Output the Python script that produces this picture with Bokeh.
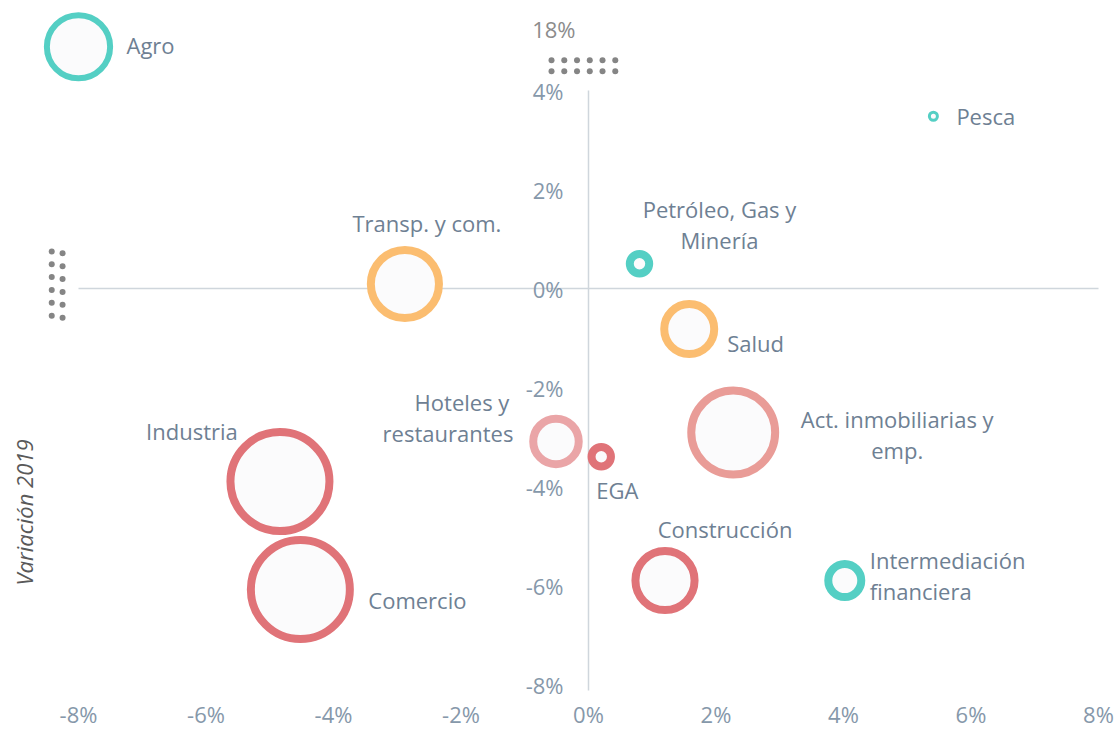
from bokeh.plotting import figure
from bokeh.models import ColumnDataSource, Range1d, FixedTicker, CustomJSTickFormatter
from bokeh.core.properties import value
from bokeh.embed import file_html
from bokeh.resources import INLINE
import math

# ---------------- data ----------------
sectores = ["Agro", "Pesca", "Petróleo, Gas y Minería", "Transp. y com.", "Salud",
            "Hoteles y restaurantes", "EGA", "Act. inmobiliarias y emp.", "Industria",
            "Comercio", "Construcción", "Intermediación financiera"]
var_x = [-8.0, 5.41, 0.80, -2.88, 1.58, -0.51, 0.20, 2.27, -4.84, -4.52, 1.20, 4.02]
var_2019 = [13.9, 3.48, 0.50, 0.09, -0.82, -3.09, -3.40, -2.91, -3.90, -6.08, -5.90, -5.90]
peso = [6.7, 0.17, 1.05, 8.1, 4.7, 4.0, 1.05, 11.8, 16.0, 16.0, 6.3, 2.35]
x_ticks = [-8, -6, -4, -2, 0, 2, 4, 6, 8]
y_ticks = [-8, -6, -4, -2, 0, 2, 4]
y_break_tick = 18

# ---------------- styles ----------------
TEAL = "#54cfc4"
ORANGE = "#fbbd70"
RED = "#e07378"
PINK1 = "#e99c97"
PINK2 = "#eaa5a7"
colores = [TEAL, TEAL, TEAL, ORANGE, ORANGE, PINK2, RED, PINK1, RED, RED, RED, TEAL]
grosor = [6, 3, 8, 8, 8, 8, 8, 8, 8, 8, 8, 8]
K = 13.375
TXT = "#6e8093"
TICK = "#8698aa"
FONT = "Open Sans"

BREAK = 4.0
BREAK_SCALE = 1.25 / 14.0


def y_disp(v):
    return v if v <= BREAK else BREAK + (v - BREAK) * BREAK_SCALE


# ---------------- figure ----------------
PX_X = 63.75
PX_Y = 49.5
x0 = -8 - 78 / PX_X
y1 = 288 / PX_Y
FH = 697
p = figure(frame_width=1116, frame_height=FH, output_backend="svg", toolbar_location=None,
           x_range=Range1d(x0, x0 + 1116 / PX_X), y_range=Range1d(y1 - FH / PX_Y, y1),
           min_border=0, background_fill_color="white", border_fill_color="white")
p.outline_line_color = None
p.xgrid.visible = False
p.ygrid.visible = False
p.yaxis.visible = False

ax = p.xaxis[0]
ax.ticker = FixedTicker(ticks=x_ticks)
ax.formatter = CustomJSTickFormatter(code="return tick + '%';")
ax.axis_line_color = None
ax.major_tick_line_color = None
ax.minor_tick_line_color = None
ax.major_tick_out = 0
ax.major_tick_in = 0
ax.major_label_standoff = 1
ax.major_label_text_font = FONT
ax.major_label_text_font_size = "22px"
ax.major_label_text_color = TICK

# axis lines
p.line(x=[-8, 8], y=[0, 0], line_color="#cfd6dc", line_width=1.5)
p.line(x=[0, 0], y=[-8.12, 4], line_color="#cfd6dc", line_width=1.5)

# y tick labels
p.text(x=[0] * len(y_ticks), y=y_ticks, text=[f"{t}%" for t in y_ticks],
       x_offset=-25, text_align="right", text_baseline="middle",
       text_font=value(FONT), text_font_size=value("22px"), text_color=TICK)
p.text(x=[0], y=[y_disp(y_break_tick)], text=[f"{y_break_tick}%"],
       x_offset=-13, text_align="right", text_baseline="middle",
       text_font=value(FONT), text_font_size=value("22px"), text_color="#8c8c8c")

# axis break marks
bx, by = [], []
for i in range(6):
    for r in range(2):
        bx.append(-0.58 + i * 0.2)
        by.append(y_disp(y_break_tick) - 0.64 - r * 0.22)
for i in range(6):
    for c in range(2):
        bx.append(-8.42 + c * 0.17)
        by.append(0.75 - i * 0.26 - c * 0.04)
p.scatter(x=bx, y=by, size=6, fill_color="#858585", line_color=None)

# bubbles
radios = [K * math.sqrt(w) for w in peso]
src = ColumnDataSource(dict(
    x=var_x, y=[y_disp(v) for v in var_2019], name=sectores,
    size=[2 * r - g for r, g in zip(radios, grosor)], lw=grosor, color=colores))
p.scatter("x", "y", size="size", line_width="lw", line_color="color",
          fill_color="#fbfbfc", source=src)

# labels: (sector index, text, dx, dy [screen px, down positive], align)
etiquetas = [
    (0, "Agro", 48, -2, "left"),
    (1, "Pesca", 23, 0, "left"),
    (2, "Petróleo, Gas y", 80, -55, "center"),
    (2, "Minería", 80, -24, "center"),
    (3, "Transp. y com.", 22, -61, "center"),
    (4, "Salud", 38, 14, "left"),
    (5, "Hoteles y", -94, -39, "center"),
    (5, "restaurantes", -108, -8, "center"),
    (6, "EGA", 16, 33, "center"),
    (7, "Act. inmobiliarias y", 164, -14, "center"),
    (7, "emp.", 164, 17, "center"),
    (8, "Industria", -88, -51, "center"),
    (9, "Comercio", 117, 11, "center"),
    (10, "Construcción", 60, -52, "center"),
    (11, "Intermediación", 25, -21, "left"),
    (11, "financiera", 25, 10, "left"),
]
lsrc = ColumnDataSource(dict(
    x=[var_x[e[0]] for e in etiquetas],
    y=[y_disp(var_2019[e[0]]) for e in etiquetas],
    text=[e[1] for e in etiquetas],
    dx=[e[2] for e in etiquetas],
    dy=[e[3] for e in etiquetas],
    align=[e[4] for e in etiquetas]))
p.text("x", "y", text="text", x_offset="dx", y_offset="dy", text_align="align",
       text_baseline="middle", text_font=value(FONT), text_font_size=value("22px"),
       text_color=TXT, source=lsrc)

# y-axis title
p.text(x=[x0], y=[(288 - 512) / PX_Y], text=["Variación 2019"], x_offset=23, angle=math.pi / 2,
       text_align="center", text_baseline="middle", text_font=value(FONT),
       text_font_size=value("22px"), text_font_style="italic", text_color="#595959")

open("out.html", "w").write(file_html(p, INLINE))
